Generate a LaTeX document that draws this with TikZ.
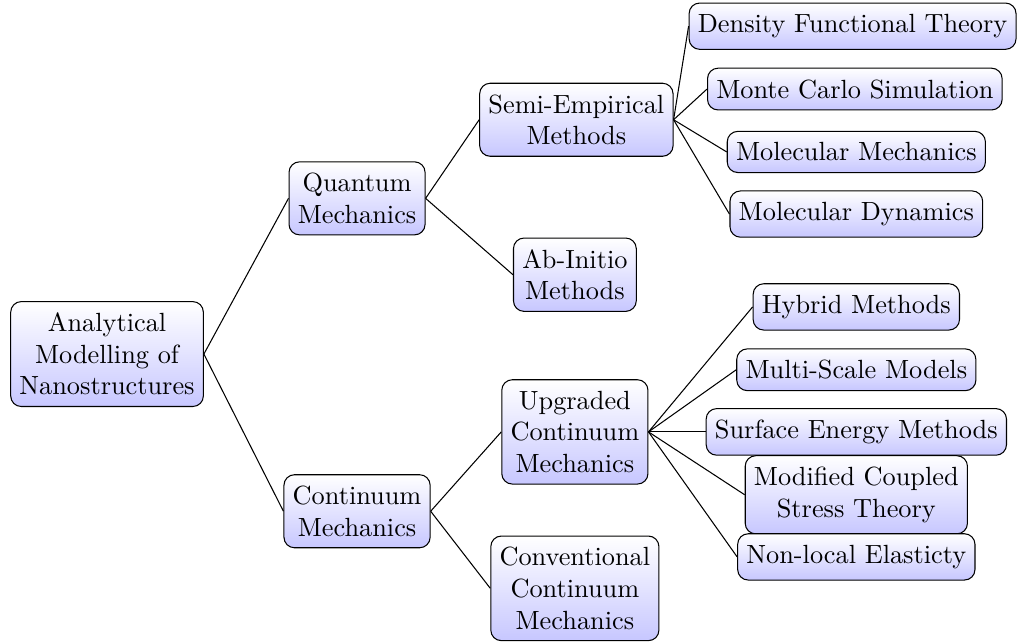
\documentclass[tikz,border=0pt]{standalone}
\usepackage{tikz}
\usetikzlibrary{shapes,positioning,calc}

\tikzset{
    topic/.style={draw, rounded corners, align=center, inner ysep=4.3pt, top color=white, bottom color=blue!22},
    link/.style={thin}
}

\begin{document}
\begin{tikzpicture}
    \useasboundingbox (0,0) rectangle (13.6,-8.58);

    % root
    \node[topic] (ana) at (1.43,-4.73) {Analytical\\Modelling of\\Nanostructures};

    % first level
    \node[topic] (qm) at (4.77,-2.65) {Quantum\\Mechanics};
    \node[topic] (cm) at (4.77,-6.83) {Continuum\\Mechanics};

    % second level
    \node[topic] (semi) at (7.70,-1.60) {Semi-Empirical\\Methods};
    \node[topic] (abi)  at (7.68,-3.67) {Ab-Initio\\Methods};
    \node[topic] (upg)  at (7.68,-5.77) {Upgraded\\Continuum\\Mechanics};
    \node[topic] (conv) at (7.68,-7.86) {Conventional\\Continuum\\Mechanics};

    % leaves, quantum side
    \node[topic] (dft) at (11.39,-0.35) {Density Functional Theory};
    \node[topic] (mc)  at (11.42,-1.19) {Monte Carlo Simulation};
    \node[topic] (mm)  at (11.44,-2.03) {Molecular Mechanics};
    \node[topic] (md)  at (11.44,-2.86) {Molecular Dynamics};

    % leaves, continuum side
    \node[topic] (hyb)  at (11.44,-4.10) {Hybrid Methods};
    \node[topic] (msm)  at (11.44,-4.94) {Multi-Scale Models};
    \node[topic] (sem)  at (11.44,-5.77) {Surface Energy Methods};
    \node[topic] (mcst) at (11.44,-6.61) {Modified Coupled\\Stress Theory};
    \node[topic] (nle)  at (11.44,-7.44) {Non-local Elasticty};

    % connectors
    \foreach \a/\b in {ana/qm, ana/cm, qm/semi, qm/abi, cm/upg, cm/conv,
                       semi/dft, semi/mc, semi/mm, semi/md,
                       upg/hyb, upg/msm, upg/sem, upg/mcst, upg/nle} {
        \draw[link] (\a.east) -- (\b.west);
    }
\end{tikzpicture}
\end{document}
